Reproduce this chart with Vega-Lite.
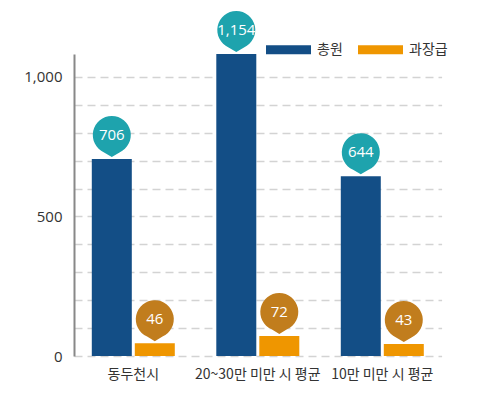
{
  "$schema": "https://vega.github.io/schema/vega-lite/v6.json",
  "autosize": {"type": "none"},
  "padding": {"left": 74, "top": 54, "right": 47, "bottom": 44},
  "width": 379,
  "height": 302,
  "config": {"view": {"stroke": null}, "font": "Noto Sans CJK KR"},
  "data": {
    "values": [
      {"region": "동두천시", "type": "총원", "value": 706},
      {"region": "동두천시", "type": "과장급", "value": 46},
      {"region": "20~30만 미만 시 평균", "type": "총원", "value": 1154},
      {"region": "20~30만 미만 시 평균", "type": "과장급", "value": 72},
      {"region": "10만 미만 시 평균", "type": "총원", "value": 644},
      {"region": "10만 미만 시 평균", "type": "과장급", "value": 43}
    ]
  },
  "encoding": {
    "y": {
      "field": "value",
      "type": "quantitative",
      "scale": {"domain": [0, 1082.4], "clamp": true, "nice": false},
      "axis": {
        "title": null,
        "values": [0, 100, 200, 300, 400, 500, 600, 700, 800, 900, 1000],
        "labelExpr": "datum.value % 500 === 0 ? datum.label : ''",
        "ticks": false,
        "domainColor": "#888888",
        "domainWidth": 2,
        "gridColor": "#d3d3d3",
        "gridDash": [8, 5],
        "gridWidth": 1.5,
        "labelFont": "Open Sans",
        "labelFontSize": 15,
        "labelColor": "#333333",
        "labelPadding": 12
      }
    }
  },
  "layer": [
    {
      "mark": {"type": "bar"},
      "encoding": {
        "x": {
          "field": "region",
          "type": "nominal",
          "sort": ["동두천시", "20~30만 미만 시 평균", "10만 미만 시 평균"],
          "scale": {"range": [0, 367.6], "paddingInner": 0.3333, "paddingOuter": 0.143},
          "axis": {
            "title": null,
            "domain": false,
            "ticks": false,
            "labelAngle": 0,
            "labelFontSize": 14,
            "labelColor": "#333333",
            "labelPadding": 11
          }
        },
        "xOffset": {
          "field": "type",
          "sort": ["총원", "과장급"],
          "scale": {"paddingInner": 0.0698, "paddingOuter": 0}
        },
        "color": {
          "field": "type",
          "type": "nominal",
          "sort": ["총원", "과장급"],
          "scale": {"domain": ["총원", "과장급"], "range": ["#134e86", "#ef9600"]},
          "legend": {
            "title": null,
            "orient": "none",
            "legendX": 192,
            "legendY": -27,
            "direction": "horizontal",
            "symbolType": "M-1,-0.2H1V0.2H-1Z",
            "symbolSize": 2025,
            "symbolStrokeWidth": 0,
            "symbolOpacity": 1,
            "labelFontSize": 14,
            "labelColor": "#333333",
            "labelOffset": 6,
            "columnPadding": 15,
            "padding": 0
          }
        }
      }
    },
    {
      "data": {"values": [{"base": 0}]},
      "mark": {"type": "rule", "color": "#888888", "strokeWidth": 2},
      "encoding": {"y": {"datum": 0}}
    },
    {
      "mark": {
        "type": "point",
        "shape": "M-0.35,0.79A0.864,0.864 0 1 1 0.35,0.79L0,1Z",
        "size": 1936,
        "filled": true,
        "opacity": 1,
        "strokeWidth": 0,
        "yOffset": -24
      },
      "encoding": {
        "x": {"field": "region", "type": "nominal", "sort": ["동두천시", "20~30만 미만 시 평균", "10만 미만 시 평균"]},
        "xOffset": {"field": "type", "sort": ["총원", "과장급"]},
        "color": {
          "condition": {"test": "datum.type === '총원'", "value": "#1ea3ad"},
          "value": "#c17d1d"
        }
      }
    },
    {
      "mark": {
        "type": "text",
        "yOffset": -24,
        "font": "Open Sans",
        "fontSize": 15,
        "color": "white",
        "align": "center",
        "baseline": "middle"
      },
      "encoding": {
        "x": {"field": "region", "type": "nominal", "sort": ["동두천시", "20~30만 미만 시 평균", "10만 미만 시 평균"]},
        "xOffset": {"field": "type", "sort": ["총원", "과장급"]},
        "text": {"field": "value", "type": "quantitative", "format": ","}
      }
    }
  ]
}
